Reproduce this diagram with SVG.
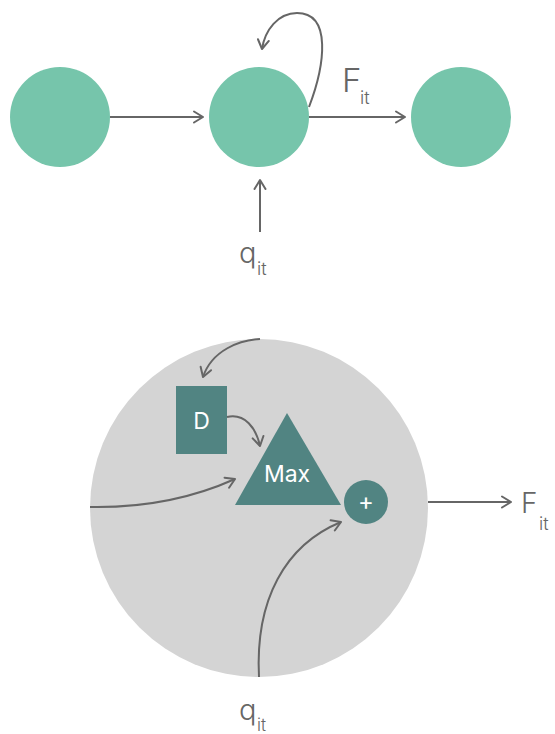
<svg xmlns="http://www.w3.org/2000/svg" width="555" height="734" viewBox="0 0 555 734">
<defs>
<marker id="arr" viewBox="0 0 14 14" refX="12" refY="7" markerWidth="14" markerHeight="14" markerUnits="userSpaceOnUse" orient="auto">
<path d="M3,1.5 L12,7 L3,12.5" fill="none" stroke="#666" stroke-width="2" stroke-linecap="round" stroke-linejoin="round"/>
</marker>
<style>
.node{fill:#76c5ab}
.teal{fill:#518482}
.edge{fill:none;stroke:#666;stroke-width:2;marker-end:url(#arr)}
.lbl{font-family:Inter,"Liberation Sans",sans-serif;font-weight:300;fill:#666}
.wt{font-family:Inter,"Liberation Sans",sans-serif;fill:#fff}
</style>
</defs>
<rect width="555" height="734" fill="#fff"/>
<g id="node-left"><circle class="node" cx="60" cy="117" r="50"/></g>
<g id="node-mid"><circle class="node" cx="259" cy="117" r="50"/></g>
<g id="node-right"><circle class="node" cx="461" cy="117" r="50"/></g>
<g id="cell">
<circle cx="259" cy="508" r="169" fill="#d4d4d4"/>
</g>
<g id="node-D"><rect class="teal" x="176" y="386" width="51" height="68"/><text class="wt" x="201.5" y="429" font-size="23" text-anchor="middle">D</text></g>
<g id="node-max"><polygon class="teal" points="287,413 235,505 341,505"/><text class="wt" x="287" y="482" font-size="23" text-anchor="middle">Max</text></g>
<g id="node-plus"><circle class="teal" cx="366" cy="502" r="22"/><text class="wt" x="366" y="510" font-size="24" text-anchor="middle">+</text></g>
<g id="connectors">
<path class="edge" d="M110,117 L203,117"/>
<path class="edge" d="M309,117 L405,117"/>
<path class="edge" d="M309,107 C325,65 332,13 297,13 C278,13 265,30 262,49"/>
<path class="edge" d="M260,232 L260,180"/>
<path class="edge" d="M260,339 C240,340 212,350 203,377"/>
<path class="edge" d="M227,417 C245,413 256,428 260,446"/>
<path class="edge" d="M90,507 C145,508 195,497 235,479"/>
<path class="edge" d="M259,677 C255,600 285,545 341,522"/>
<path class="edge" d="M428,502 L511,502"/>
</g>
<g id="labels">
<text class="lbl" x="342" y="92" font-size="33">F</text>
<text class="lbl" x="360" y="104" font-size="18">it</text>
<text class="lbl" x="239" y="263" font-size="29">q</text>
<text class="lbl" x="257" y="275" font-size="18">it</text>
<text class="lbl" x="521" y="513" font-size="28">F</text>
<text class="lbl" x="539" y="530" font-size="18">it</text>
<text class="lbl" x="239" y="720" font-size="29">q</text>
<text class="lbl" x="257" y="731" font-size="17">it</text>
</g>
</svg>
